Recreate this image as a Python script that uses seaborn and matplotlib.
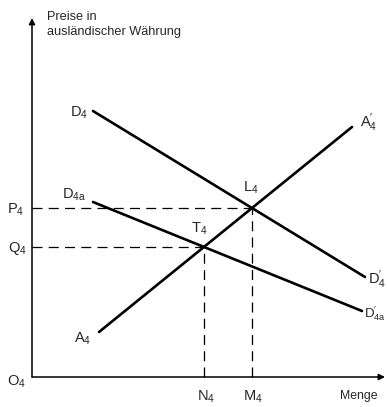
import matplotlib
matplotlib.use("Agg")
import matplotlib.pyplot as plt
import numpy as np
import pandas as pd
import seaborn as sns

sns.set_style("white")
plt.rcParams['font.family'] = ['Liberation Sans', 'DejaVu Sans']
plt.rcParams['mathtext.fontset'] = 'custom'
plt.rcParams['mathtext.rm'] = 'Liberation Sans'
plt.rcParams['mathtext.it'] = 'Liberation Sans'

# curve end points (Menge, Preis)
curve_names = ["D4", "D4a", "A4"]
curve_x = [[61, 333], [61, 330], [67, 320]]
curve_y = [[266, 100], [175, 66], [45, 250]]

# axis extent
x_max = 353
y_max = 359


def line_coef(xs, ys):
    m = (ys[1] - ys[0]) / (xs[1] - xs[0])
    return m, ys[0] - m * xs[0]


def intersect(i, j):
    m1, b1 = line_coef(curve_x[i], curve_y[i])
    m2, b2 = line_coef(curve_x[j], curve_y[j])
    x = (b2 - b1) / (m1 - m2)
    return x, m1 * x + b1


L4 = intersect(0, 2)
T4 = intersect(1, 2)

rows = []
for name, xs, ys in zip(curve_names, curve_x, curve_y):
    for x, y in zip(xs, ys):
        rows.append({"curve": name, "Menge": x, "Preis": y})
df = pd.DataFrame(rows)

fig = plt.figure(figsize=(3.87, 4.07), dpi=100)
ax = fig.add_axes([0, 0, 1, 1])

sns.lineplot(data=df, x="Menge", y="Preis", units="curve", estimator=None,
             color="black", lw=1.9, ax=ax, solid_capstyle="round")

# dashed guide lines
for px, py in [L4, T4]:
    ax.plot([0, px], [py, py], color="black", lw=0.9, dashes=(8, 5))
    ax.plot([px, px], [0, py], color="black", lw=0.9, dashes=(8, 5))

# axes with arrows
arrow = dict(arrowstyle="-|>", color="black", lw=1.1, mutation_scale=9,
             shrinkA=0, shrinkB=0)
ax.annotate("", xy=(x_max, 0), xytext=(0, 0), arrowprops=arrow)
ax.annotate("", xy=(0, y_max), xytext=(0, 0), arrowprops=arrow)

fs = 10.5
ax.text(15, 366, "Preise in\nausländischer Währung", fontsize=9.2,
        ha="left", va="top", linespacing=1.3)
ax.text(47, 264, r"D$_4$", fontsize=fs, ha="center", va="center")
ax.text(42, 182, r"D$_{4a}$", fontsize=fs, ha="center", va="center")
ax.text(336, 97, r"D$_4^{\prime}$", fontsize=fs, ha="left", va="center")
ax.text(332, 63, r"D$_{4a}^{\prime}$", fontsize=9.5, ha="left", va="center")
ax.text(51, 38, r"A$_4$", fontsize=fs, ha="center", va="center")
ax.text(328, 254, r"A$_4^{\prime}$", fontsize=fs, ha="left", va="center")
ax.text(L4[0] - 1, L4[1] + 20, r"L$_4$", fontsize=fs, ha="center", va="center")
ax.text(T4[0] - 5, T4[1] + 18, r"T$_4$", fontsize=fs, ha="center", va="center")
ax.text(-16, L4[1] - 2, r"P$_4$", fontsize=fs, ha="center", va="center")
ax.text(-15, T4[1] - 2, r"Q$_4$", fontsize=fs, ha="center", va="center")
ax.text(-16, -5, r"O$_4$", fontsize=fs, ha="center", va="center")
ax.text(T4[0] + 2, -20, r"N$_4$", fontsize=fs, ha="center", va="center")
ax.text(L4[0] + 1, -20, r"M$_4$", fontsize=fs, ha="center", va="center")
ax.text(327, -19, "Menge", fontsize=8.8, ha="center", va="center")

ax.set_xlim(-32, 355)
ax.set_ylim(-30, 377)
ax.axis("off")

fig.savefig("out.png", dpi=100)
